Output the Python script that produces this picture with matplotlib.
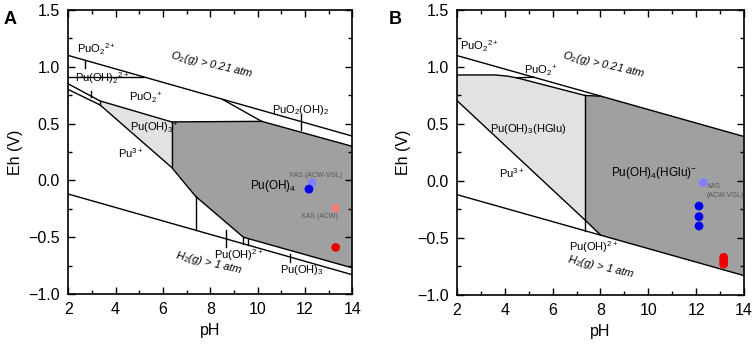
import matplotlib
matplotlib.use("Agg")
import matplotlib.pyplot as plt
import numpy as np
from matplotlib.ticker import MultipleLocator

plt.rcParams['font.family'] = ['Liberation Sans', 'DejaVu Sans']
plt.rcParams['mathtext.fontset'] = 'custom'
plt.rcParams['mathtext.rm'] = 'Liberation Sans'
plt.rcParams['mathtext.it'] = 'Liberation Sans:italic'

# water stability lines (both panels)
ph_ends = [2, 14]
o2_line = [1.10, 0.39]
h2_line = [-0.12, -0.83]

# ---- panel A boundaries (pH, Eh) ----
a_puo2_top = ([2, 5.17], [0.91, 0.91])
a_upper = ([2, 3.34, 6.37, 10.17, 14], [0.85, 0.70, 0.515, 0.52, 0.30])
a_pu3 = ([2, 3.34, 6.37, 7.38, 9.4, 14], [0.80, 0.665, 0.114, -0.14, -0.50, -0.77])
a_puo2oh2 = ([8.52, 10.17], [0.713, 0.52])
a_vert1 = ([3.34, 3.34], [0.70, 0.665])
a_vert2 = ([6.37, 6.37], [0.515, 0.114])
a_vert3 = ([7.38, 7.38], [-0.14, -0.437])
a_vert4 = ([9.4, 9.4], [-0.50, -0.556])
a_vert5 = ([9.6, 9.6], [-0.512, -0.568])
a_light = ([3.34, 6.37, 6.37, 3.34], [0.70, 0.515, 0.114, 0.665])
a_dark = ([6.37, 10.17, 14, 14, 9.4, 7.38, 6.37], [0.515, 0.52, 0.30, -0.77, -0.50, -0.14, 0.114])
a_ticks = [([2.7, 2.7], [1.06, 0.99]), ([2.95, 2.95], [0.79, 0.73]),
           ([11.85, 11.85], [0.58, 0.445]), ([8.65, 8.65], [-0.435, -0.585]),
           ([11.35, 11.35], [-0.645, -0.72])]
a_xas_ph = [12.31, 12.17, 13.3, 13.3]
a_xas_eh = [-0.02, -0.077, -0.245, -0.59]
a_xas_col = ['#8080ff', '#0000ee', '#f08080', '#ee0000']

# ---- panel B boundaries ----
b_top = ([2, 3.6, 4.1, 4.5, 5.2], [0.93, 0.93, 0.92, 0.905, 0.91])
b_upper = ([4.5, 7.35, 8.0], [0.905, 0.75, 0.744])
b_pu3 = ([2, 7.35, 8.0], [0.705, -0.342, -0.474])
b_vert = ([7.35, 7.35], [0.75, -0.435])
b_light = ([2, 3.6, 4.1, 4.5, 7.35, 7.35, 2], [0.93, 0.93, 0.92, 0.905, 0.75, -0.342, 0.705])
b_dark = ([7.35, 8.0, 14, 14, 8.0, 7.35], [0.75, 0.744, 0.39, -0.829, -0.474, -0.342])
b_xas_ph = [12.3, 12.12, 12.12, 12.12, 13.15, 13.15, 13.15]
b_xas_eh = [-0.015, -0.22, -0.313, -0.395, -0.67, -0.70, -0.73]
b_xas_col = ['#8080ff', '#0000ee', '#0000ee', '#0000ee', '#ee0000', '#ee0000', '#ee0000']

light_gray = '#e2e2e2'
dark_gray = '#a0a0a0'
lw = 1.0

fig = plt.figure(figsize=(7.54, 3.44), dpi=100)
axA = fig.add_axes([0.0905, 0.1453, 0.3767, 0.8256])
axB = fig.add_axes([0.6061, 0.1425, 0.3806, 0.8285])


def style(ax):
    ax.set_xlim(2, 14)
    ax.set_ylim(-1.0, 1.5)
    ax.xaxis.set_major_locator(MultipleLocator(2))
    ax.xaxis.set_minor_locator(MultipleLocator(1))
    ax.yaxis.set_major_locator(MultipleLocator(0.5))
    ax.yaxis.set_minor_locator(MultipleLocator(0.25))
    ax.tick_params(which='both', direction='in', top=True, right=True, labelsize=11.5, width=1.0)
    ax.tick_params(which='major', length=5, pad=6)
    ax.tick_params(which='minor', length=3)
    ax.set_yticks([-1.0, -0.5, 0.0, 0.5, 1.0, 1.5])
    ax.set_yticklabels(['\u22121.0', '\u22120.5', '0.0', '0.5', '1.0', '1.5'])
    ax.set_xlabel('pH', fontsize=11.5, labelpad=4)
    ax.set_ylabel('Eh (V)', fontsize=11.5, labelpad=4)
    for s in ax.spines.values():
        s.set_linewidth(1.2)
    ax.plot(ph_ends, o2_line, color='k', lw=lw)
    ax.plot(ph_ends, h2_line, color='k', lw=lw)


# panel A
style(axA)
axA.fill(*a_light, color=light_gray, lw=0)
axA.fill(*a_dark, color=dark_gray, lw=0)
for seg in [a_puo2_top, a_upper, a_pu3, a_puo2oh2, a_vert1, a_vert2, a_vert3, a_vert4, a_vert5] + a_ticks:
    axA.plot(*seg, color='k', lw=lw)
axA.scatter(a_xas_ph, a_xas_eh, c=a_xas_col, s=40, zorder=5, edgecolors='none')

fs = 8
axA.text(2.38, 1.12, r'PuO$_2$$^{2+}$', fontsize=fs)
axA.text(2.28, 0.87, r'Pu(OH)$_2$$^{2+}$', fontsize=fs)
axA.text(8.05, 1.02, r'O$_2$($g$) > 0.21 atm', fontsize=fs, style='italic', rotation=-13, ha='center', va='center')
axA.text(5.25, 0.72, r'PuO$_2$$^{+}$', fontsize=fs, ha='center', va='center')
axA.text(4.6, 0.46, r'Pu(OH)$_3$$^{+}$', fontsize=fs, ha='left', va='center')
axA.text(4.1, 0.24, r'Pu$^{3+}$', fontsize=fs, ha='left', va='center')
axA.text(10.6, 0.62, r'PuO$_2$(OH)$_2$', fontsize=fs, ha='left', va='center')
axA.text(9.7, -0.05, r'Pu(OH)$_4$', fontsize=8.5, ha='left', va='center')
axA.text(12.45, 0.045, 'XAS (ACW-VGL)', fontsize=5, color='#555555', ha='center', va='center')
axA.text(12.6, -0.32, 'XAS (ACW)', fontsize=5, color='#555555', ha='center', va='center')
axA.text(8.15, -0.66, r'Pu(OH)$^{2+}$', fontsize=fs, ha='left', va='center')
axA.text(7.95, -0.73, r'H$_2$($g$) > 1 atm', fontsize=fs, style='italic', rotation=-13, ha='center', va='center')
axA.text(10.95, -0.79, r'Pu(OH)$_3$', fontsize=fs, ha='left', va='center')
fig.text(0.005, 0.93, 'A', fontsize=13, fontweight='bold')

# panel B
style(axB)
axB.fill(*b_light, color=light_gray, lw=0)
axB.fill(*b_dark, color=dark_gray, lw=0)
for seg in [b_top, b_upper, b_pu3, b_vert]:
    axB.plot(*seg, color='k', lw=lw)
axB.scatter(b_xas_ph, b_xas_eh, c=b_xas_col, s=40, zorder=5, edgecolors='none')

axB.text(2.14, 1.15, r'PuO$_2$$^{2+}$', fontsize=fs)
axB.text(8.15, 1.02, r'O$_2$($g$) > 0.21 atm', fontsize=fs, style='italic', rotation=-13, ha='center', va='center')
axB.text(5.5, 0.96, r'PuO$_2$$^{+}$', fontsize=fs, ha='center', va='center')
axB.text(5.0, 0.46, r'Pu(OH)$_3$(HGlu)', fontsize=fs, ha='center', va='center')
axB.text(3.74, 0.07, r'Pu$^{3+}$', fontsize=fs, ha='left', va='center')
axB.text(10.25, 0.07, r'Pu(OH)$_4$(HGlu)$^{-}$', fontsize=8.5, ha='center', va='center')
axB.text(12.45, -0.09, 'XAS\n(ACW-VGL)', fontsize=5, color='#555555', ha='left', va='center', linespacing=1.3)
axB.text(6.67, -0.58, r'Pu(OH)$^{2+}$', fontsize=fs, ha='left', va='center')
axB.text(8.0, -0.75, r'H$_2$($g$) > 1 atm', fontsize=fs, style='italic', rotation=-13, ha='center', va='center')
fig.text(0.515, 0.93, 'B', fontsize=13, fontweight='bold')

fig.savefig('out.png', dpi=100)
